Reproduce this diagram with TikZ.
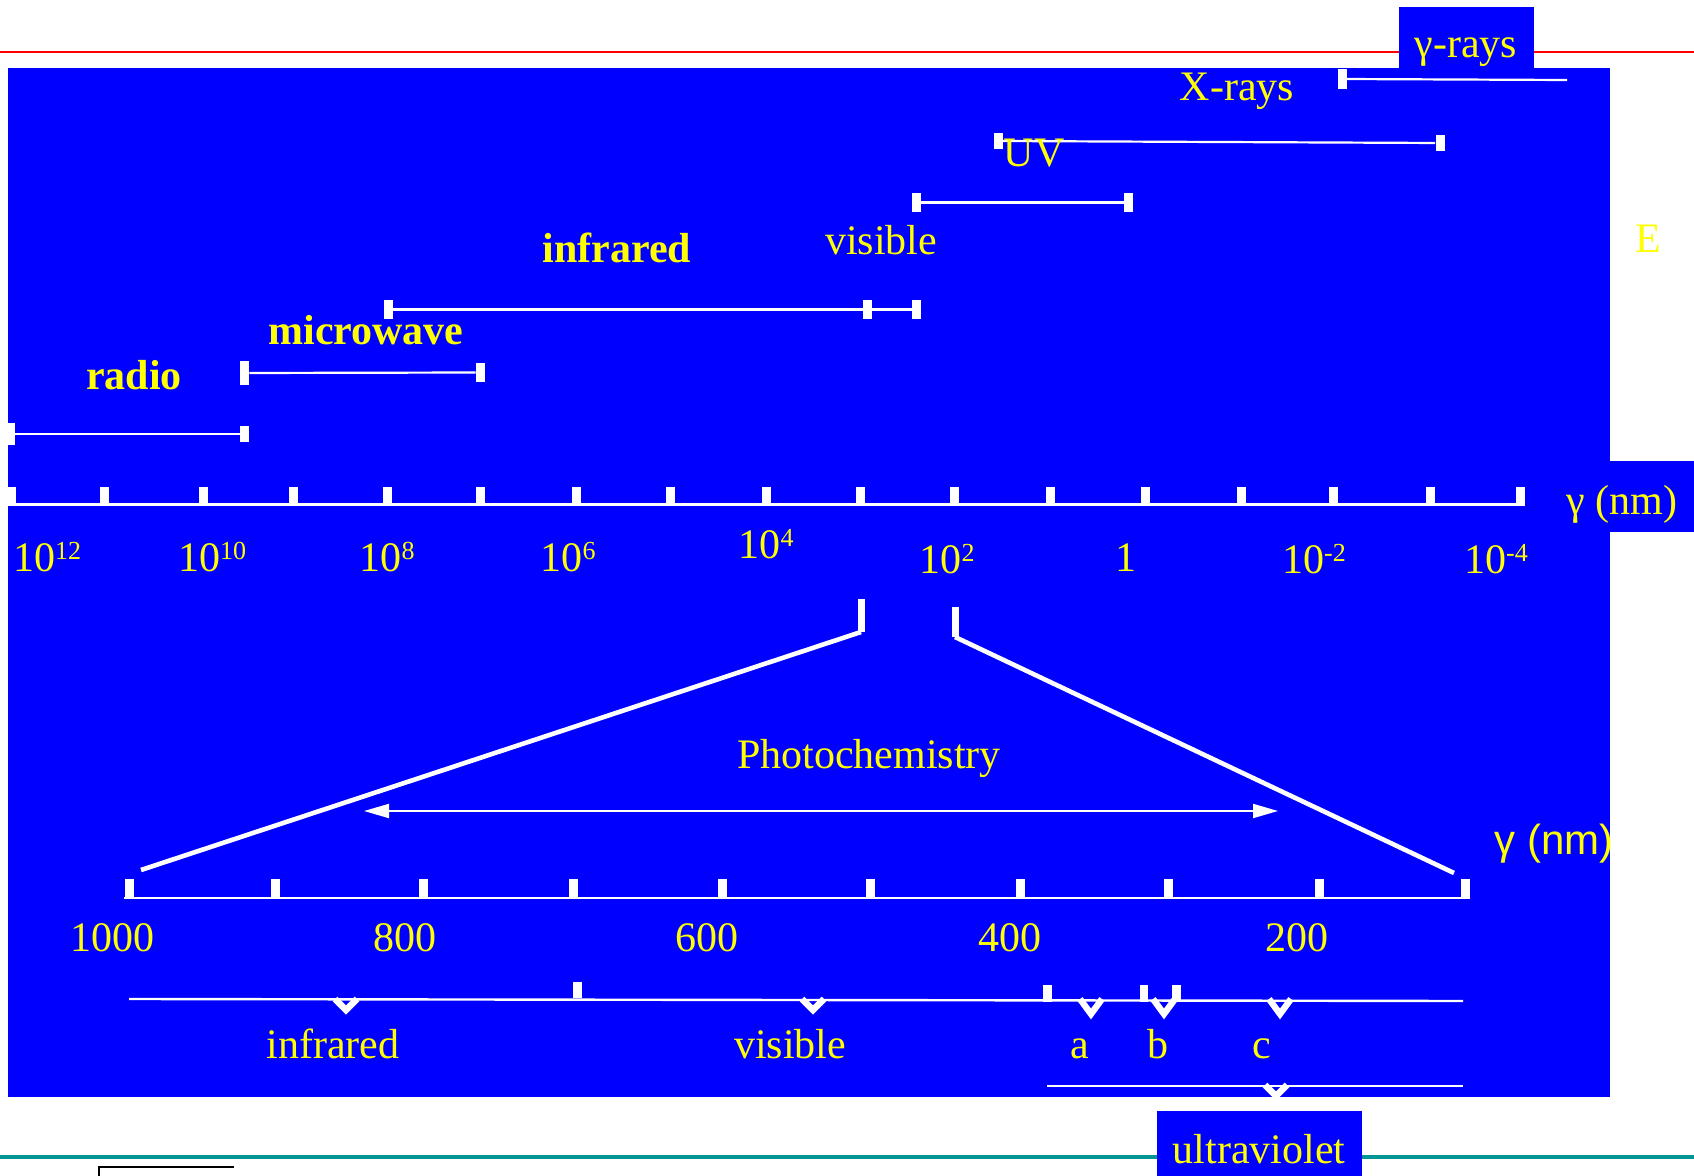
\documentclass[tikz,border=0pt]{standalone}
\usepackage{fontspec}
\setmainfont{Liberation Serif}
\newfontfamily\arialfont{Liberation Sans}
\usetikzlibrary{arrows.meta}
\definecolor{pblue}{RGB}{0,0,255}
\definecolor{pyellow}{RGB}{255,255,0}
\definecolor{pteal}{RGB}{0,150,150}
\newcommand\expo[1]{\raisebox{6.2pt}{\fontsize{13}{13}\selectfont #1}}
\begin{document}
\begin{tikzpicture}[x=0.5pt,y=-0.5pt,
  lab/.style={text=pyellow, font=\fontsize{21}{25}\selectfont, inner sep=0pt, anchor=base},
  blab/.style={text=pyellow, font=\fontsize{21}{25}\selectfont\bfseries, inner sep=0pt, anchor=base},
  slab/.style={text=pyellow, font=\fontsize{21}{25}\selectfont\arialfont, inner sep=0pt, anchor=base},
  capbox/.style={fill=white, inner sep=0pt, minimum width=4.5pt, minimum height=#1},
  capbox/.default=9.5pt,
  tickbox/.style={fill=white, inner sep=0pt, minimum width=4.5pt, minimum height=8.5pt},
  ray/.style={white, line width=1.1pt},
  axisline/.style={white, line width=1.4pt},
  zoomline/.style={white, line width=2.3pt},
  zoomstem/.style={white, line width=3.5pt},
  braceline/.style={white, line width=1.2pt},
  vmark/.style={white, line width=3.2pt, line join=miter},
]
\useasboundingbox (0,0) rectangle (1694,1176);
\fill[white] (0,0) rectangle (1694,1176);
% rules
\draw[red, line width=1.2pt] (0,52) -- (1694,52);
\draw[pteal, line width=1.6pt] (0,1157) -- (1694,1157);
% blue panels
\fill[pblue] (8,68) rectangle (1610,1097);
\fill[pblue] (1399,7) rectangle (1534,68);
\fill[pblue] (1610,461) rectangle (1694,532);
\fill[pblue] (1157,1111) rectangle (1362,1180);
% small framed box bottom left
\draw[black, line width=0.6pt] (99,1180) -- (99,1167) -- (234,1167);

% ---- ranges ----
% gamma rays
\node[capbox=10pt] (gL) at (1342,79) {};
\coordinate (gR) at (1567,80);
\draw[ray] (gL) -- (gR);
% UV
\node[capbox=8pt] (uvL) at (998,141) {};
\node[capbox=8pt] (uvR) at (1440,143) {};
\draw[ray] (uvL) -- (uvR);
% visible
\node[capbox] (viL) at (916.5,202.5) {};
\node[capbox] (viR) at (1128.5,202.5) {};
\draw[ray] (viL) -- (viR);
% infrared
\node[capbox] (irL) at (388,309.5) {};
\node[capbox] (irM) at (867.5,309.5) {};
\node[capbox] (irR) at (916.5,309.5) {};
\draw[ray] (irL) -- (irM);
\draw[ray] (irM) -- (irR);
% microwave
\node[capbox=12pt] (mwL) at (244.5,373) {};
\node[capbox] (mwR) at (480.5,372.5) {};
\draw[ray] (mwL) -- (mwR);
% radio
\node[capbox=11pt, minimum width=3.5pt] (raL) at (11.5,434) {};
\node[capbox=8pt] (raR) at (244.5,434) {};
\draw[ray] (raL) -- (raR);

% labels of ranges
\node[lab] (gamlab) at (1466,58) {γ-rays};
\node[lab] (xlab) at (1237,101) {X-rays};
\node[lab] (uvlab) at (1034,167) {UV};
\node[lab] (vislab) at (881,255) {visible};
\node[blab] (irlab) at (617,263) {infrared};
\node[blab] (mwlab) at (366,345) {microwave};
\node[blab] (ralab) at (134,390) {radio};
\node[lab] (elab) at (1648,253) {E};

% ---- main axis ----
\foreach \x [count=\i] in {11.5,104,203.5,293,387.5,480.5,576.5,670.5,766.5,860.5,954.5,1050,1145,1241,1333.5,1430.5,1520.5}
  \node[tickbox] (t\i) at (\x,495.5) {};
\draw[axisline] (t1.south west) -- (t17.south east);
\node[lab] (e12) at (47,572) {10\expo{12}};
\node[lab] (e10) at (212,572) {10\expo{10}};
\node[lab] (e8) at (387,572) {10\expo{8}};
\node[lab] (e6) at (568,572) {10\expo{6}};
\node[lab] (e4) at (766,559) {10\expo{4}};
\node[lab] (e2) at (947,574) {10\expo{2}};
\node[lab] (e0) at (1126,572) {1};
\node[lab] (em2) at (1314,574) {10\expo{-2}};
\node[lab] (em4) at (1496,574) {10\expo{-4}};
\node[lab] (nm1) at (1622,515) {γ (nm)};

% ---- zoom lines ----
\coordinate (zA) at (861,599);
\coordinate (zB) at (861,632);
\coordinate (zC) at (141,870);
\coordinate (zD) at (955,607);
\coordinate (zE) at (955,637);
\coordinate (zF) at (1454,873);
\draw[zoomstem] (zA) -- (zB);
\draw[zoomline] (zB) -- (zC);
\draw[zoomstem] (zD) -- (zE);
\draw[zoomline] (zE) -- (zF);

% photochemistry
\node[lab] (photo) at (869,769) {Photochemistry};
\coordinate (pa) at (364,811);
\coordinate (pb) at (1278,811);
\draw[white, line width=1pt, {Triangle[length=12.5pt,width=7pt]}-{Triangle[length=12.5pt,width=7pt]}] (pa) -- (pb);

% ---- lower axis ----
\foreach \x [count=\i] in {129,275.5,423.5,573,722.5,870.5,1020.5,1168.5,1319,1465.5}
  \node[tickbox, minimum height=9.5pt] (l\i) at (\x,888) {};
\draw[axisline] (l1.south west) -- (l10.south east);
\node[lab] (n1000) at (112,951) {1000};
\node[lab] (n800) at (405,951) {800};
\node[lab] (n600) at (707,951) {600};
\node[lab] (n400) at (1010,951) {400};
\node[lab] (n200) at (1297,951) {200};
\node[slab] (nm2) at (1554,854) {γ (nm)};

% ---- bottom braces ----
\coordinate (bL) at (129,999);
\coordinate (bR) at (1463,1001);
\draw[braceline] (bL) -- (bR);
\foreach \xc/\yt in {346/1010,813/1010,1091/1014,1164/1014,1280/1014}
  \draw[vmark] (\xc-11,999) -- (\xc,\yt) -- (\xc+11,999);
\node[tickbox, minimum height=8pt] (bt1) at (577,990) {};
\node[tickbox, minimum height=8.5pt] (bt2) at (1047,993) {};
\node[tickbox, minimum height=8.5pt, minimum width=4pt] (bt3) at (1144,993) {};
\node[tickbox, minimum height=8.5pt] (bt4) at (1176,993) {};
\node[lab] (irlow) at (333,1058) {infrared};
\node[lab] (vislow) at (790,1058) {visible};
\node[lab] (alab) at (1080,1058) {a};
\node[lab] (blab) at (1158,1058) {b};
\node[lab] (clab) at (1262,1058) {c};
\coordinate (uL) at (1047,1086);
\coordinate (uR) at (1463,1086);
\draw[braceline] (uL) -- (uR);
\draw[vmark] (1265,1085) -- (1276,1096) -- (1287,1085);
\node[lab] (uvlow) at (1259,1163) {ultraviolet};
\end{tikzpicture}
\end{document}
